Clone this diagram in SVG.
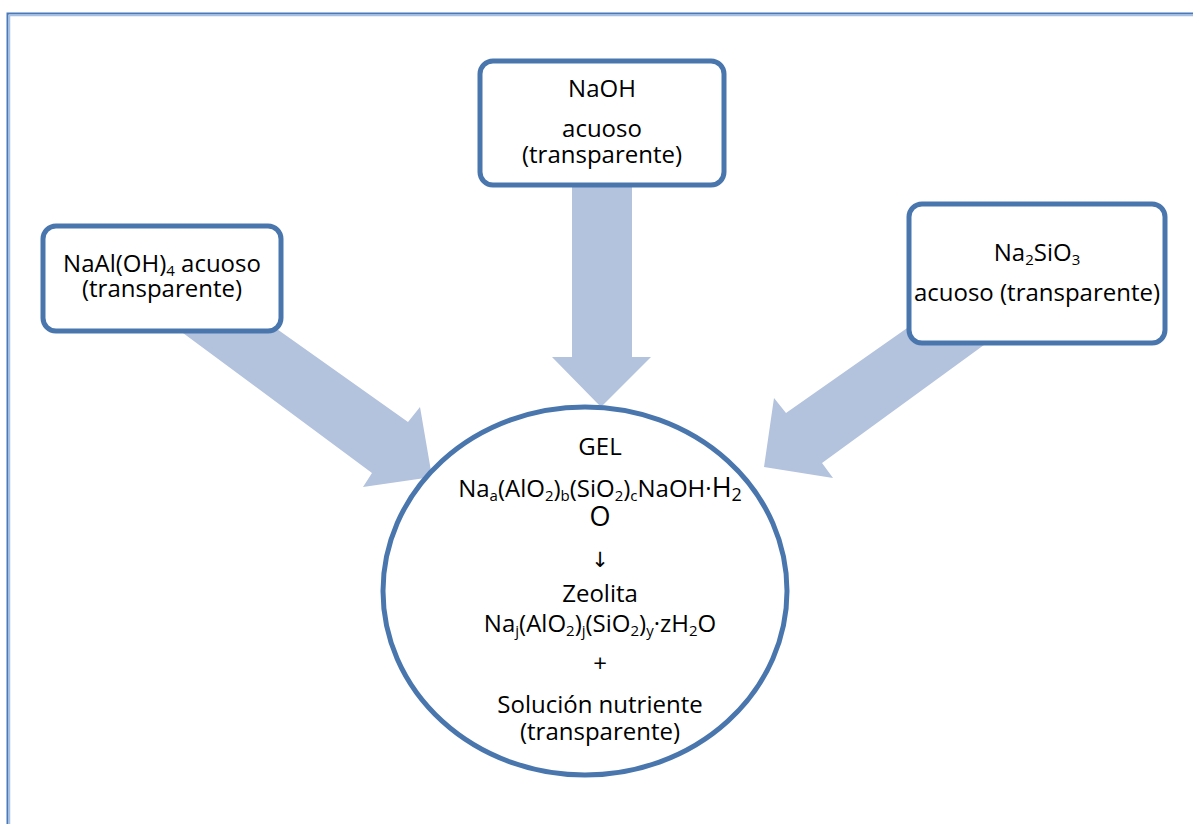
<svg xmlns="http://www.w3.org/2000/svg" width="1193" height="824" viewBox="0 0 1193 824">
<style>
.box{fill:#fff;stroke:#4a76ae;stroke-width:5}
.arr{fill:#b3c2dd;stroke:none}
text{font-family:"Open Sans","Liberation Sans",sans-serif;font-size:24px;fill:#000;text-anchor:middle}
.s{font-size:15px}
</style>
<rect width="1193" height="824" fill="#fff"/>
<g id="frame">
<path d="M7.5,824 V13.5 H1193" fill="none" stroke="#4a78b8" stroke-width="2"/>
<path d="M9.5,824 V15.5 H1193" fill="none" stroke="#a2c0e8" stroke-width="1.5"/>
</g>
<g id="connectors">
<polygon class="arr" points="250,310 408,422 420,407 432,477 363,487 372,473 160,316"/>
<polygon class="arr" points="572,150 632,150 632,357 651,357 601,407 552,357 572,357"/>
<polygon class="arr" points="940,305 786,413 774,398 764,467 833,478 822,463 1010,326"/>
</g>
<g id="node-naaloh4">
<rect class="box" x="43" y="226" width="238" height="105" rx="13"/>
<text x="162" y="272">NaAl(OH)<tspan class="s" dy="4">4</tspan><tspan dy="-4"> acuoso</tspan></text>
<text x="162" y="297">(transparente)</text>
</g>
<g id="node-naoh">
<rect class="box" x="480" y="61" width="244" height="124" rx="13"/>
<text x="602" y="97">NaOH</text>
<text x="602" y="137">acuoso</text>
<text x="602" y="163">(transparente)</text>
</g>
<g id="node-na2sio3">
<rect class="box" x="909" y="204" width="256" height="139" rx="13"/>
<text x="1037" y="261">Na<tspan class="s" dy="4">2</tspan><tspan dy="-4">SiO</tspan><tspan class="s" dy="4">3</tspan></text>
<text x="1037" y="301">acuoso (transparente)</text>
</g>
<g id="node-gel">
<ellipse cx="585" cy="591" rx="202" ry="184" fill="#fff" stroke="#4a76ae" stroke-width="5"/>
<text x="600" y="455">GEL</text>
<text x="600" y="497">Na<tspan class="s" dy="4">a</tspan><tspan dy="-4">(AlO</tspan><tspan class="s" dy="4">2</tspan><tspan dy="-4">)</tspan><tspan class="s" dy="4">b</tspan><tspan dy="-4">(SiO</tspan><tspan class="s" dy="4">2</tspan><tspan dy="-4">)</tspan><tspan class="s" dy="4">c</tspan><tspan dy="-4">NaOH·</tspan><tspan style="font-size:27px">H</tspan><tspan class="s" style="font-size:18px" dy="4">2</tspan></text>
<text x="600" y="526" style="font-size:27px">O</text>
<text x="600" y="567" style="font-family:'DejaVu Sans',sans-serif;font-size:21px">↓</text>
<text x="600" y="602">Zeolita</text>
<text x="600" y="632">Na<tspan class="s" dy="4">j</tspan><tspan dy="-4">(AlO</tspan><tspan class="s" dy="4">2</tspan><tspan dy="-4">)</tspan><tspan class="s" dy="4">j</tspan><tspan dy="-4">(SiO</tspan><tspan class="s" dy="4">2</tspan><tspan dy="-4">)</tspan><tspan class="s" dy="4">y</tspan><tspan dy="-4">·zH</tspan><tspan class="s" dy="4">2</tspan><tspan dy="-4">O</tspan></text>
<text x="600" y="672">+</text>
<text x="600" y="713">Solución nutriente</text>
<text x="600" y="740">(transparente)</text>
</g>
</svg>
